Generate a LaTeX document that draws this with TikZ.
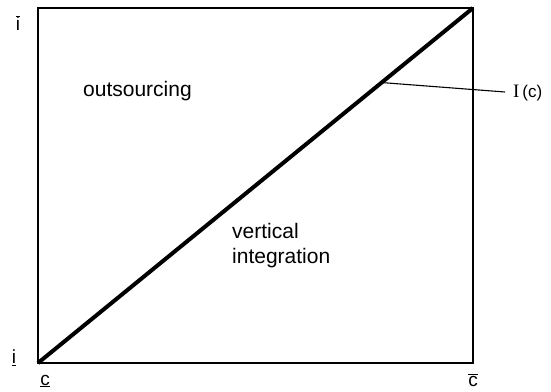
\documentclass[tikz,border=0pt]{standalone}
\usepackage{fontspec}
\setmainfont{Liberation Sans}
\newfontfamily\serifI{Liberation Serif}
\usetikzlibrary{calc}
\begin{document}
\begin{tikzpicture}[x=1pt,y=-1pt,
  bigtxt/.style={font=\fontsize{21}{25}\selectfont, inner sep=0pt},
  axlbl/.style={font=\fontsize{19}{22}\selectfont, inner sep=0pt},
  framestyle/.style={line width=1.6pt},
  diagstyle/.style={line width=4pt},
  leader/.style={line width=1.1pt}]
\useasboundingbox[fill=white] (0,0) rectangle (551,391);
\coordinate (ll) at (38,363);
\coordinate (ur) at (473,8);
\draw[framestyle] (ll) rectangle (ur);
\draw[diagstyle] (ll) -- (ur);
\coordinate (lp) at ($(ll)!0.79!(ur)$);
\node[font=\fontsize{17}{20}\selectfont, inner sep=0pt, anchor=base west] (lab) at (513,97) {{\serifI\fontsize{19}{20}\selectfont I}\,(c)};
\coordinate (lend) at (505,92);
\draw[leader] (lp) -- (lend);
\node[bigtxt, anchor=base west] (out) at (83,96) {outsourcing};
\node[bigtxt, anchor=base west] (vert) at (232,238) {vertical};
\node[bigtxt, anchor=base west] (integ) at (232,263) {integration};
\node[axlbl] (ibar) at (18,23) {$\overline{\mbox{i}}$};
\node[axlbl] (iund) at (14,358) {$\underline{\mbox{i}}$};
\node[axlbl] (cund) at (45,381) {$\underline{\mbox{c}}$};
\node[axlbl] (cbar) at (473,380) {$\overline{\mbox{c}}$};
\end{tikzpicture}
\end{document}
